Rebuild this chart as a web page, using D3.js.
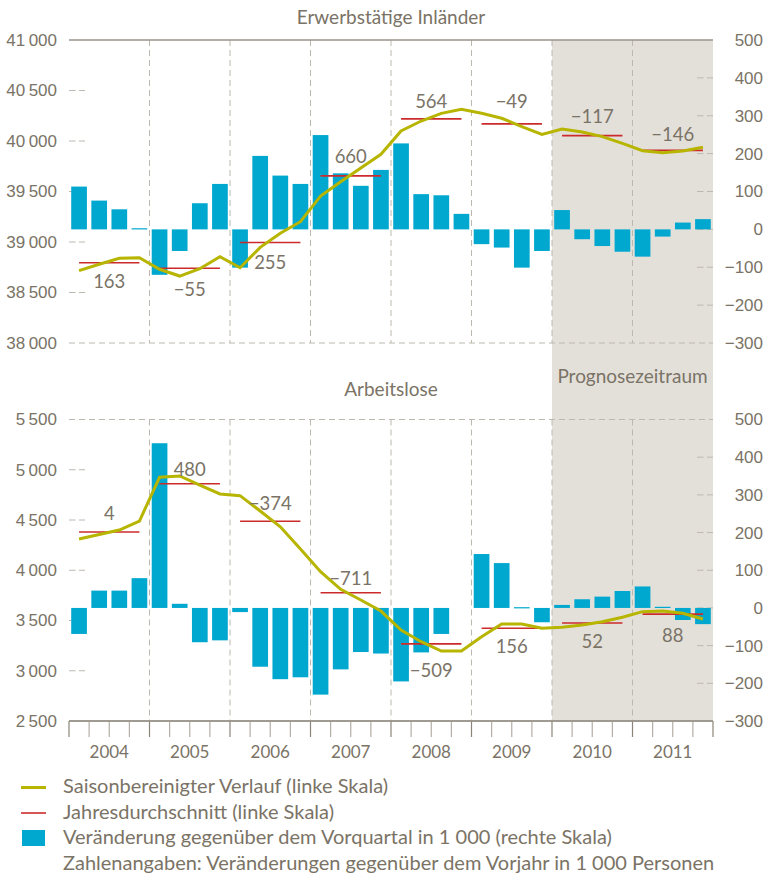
<!DOCTYPE html>
<html><head><meta charset="utf-8">
<script src="https://cdn.jsdelivr.net/npm/d3@7/dist/d3.min.js"></script>
<style>
html,body{margin:0;padding:0;background:#fff;}
svg{display:block;font-family:Lato,"Open Sans",sans-serif;}
</style></head>
<body>
<svg id="chart" width="768" height="876"></svg>
<script>
// ---------- DATA ----------
const years = ["2004","2005","2006","2007","2008","2009","2010","2011"];
const quarters = years.flatMap(y => ["Q1","Q2","Q3","Q4"].map(q => y + q));
const forecastYears = ["2010","2011"];

// Erwerbstätige Inländer (1000 Personen)
const empLine = [38716,38780,38839,38845, 38730,38663,38736,38855, 38745,38947,39086,39201,
                 39455,39597,39733,39868, 40099,40198,40274,40314, 40274,40225,40142,40066,
                 40119,40089,40043,39977, 39904,39884,39901,39938];
const empAvg = [38795,38740,38995,39655,40219,40170,40053,39907];
const empBars = [113,76,53,3, -120,-57,69,120, -101,194,142,120,
                 249,148,115,157, 227,93,90,41, -39,-48,-101,-57,
                 51,-26,-44,-59, -72,-19,18,27];
const empYoY = ["163","−55","255","660","564","−49","−117","−146"];
const empYoYAt = [38607,38525,38799,39845,40389,40389,40240,40066];

// Arbeitslose (1000 Personen)
const unLine = [4311,4356,4400,4490, 4925,4938,4848,4759, 4742,4590,4433,4211,
                3986,3810,3704,3594, 3405,3289,3196,3196, 3339,3465,3465,3422,
                3432,3455,3488,3532, 3588,3595,3572,3515];
const unAvg = [4381,4861,4487,3776,3267,3423,3475,3563];
const unBars = [-69,46,46,79, 437,11,-91,-86, -11,-156,-189,-184,
                -230,-163,-117,-121, -195,-118,-69,0, 143,119,2,-38,
                8,23,30,45, 57,3,-32,-43];
const unYoY = ["4","480","−374","−711","−509","156","52","88"];
const unYoYAt = [4567,5004,4659,3920,3007,3246,3289,3346];

const empTicks = [38000,38500,39000,39500,40000,40500,41000];
const unTicks = [2500,3000,3500,4000,4500,5000,5500];
const rightTicks = [-300,-200,-100,0,100,200,300,400,500];

const titles = ["Erwerbstätige Inländer","Arbeitslose"];
const forecastLabel = "Prognosezeitraum";
const legendItems = ["Saisonbereinigter Verlauf (linke Skala)",
                     "Jahresdurchschnitt (linke Skala)",
                     "Veränderung gegenüber dem Vorquartal in 1 000 (rechte Skala)",
                     "Zahlenangaben: Veränderungen gegenüber dem Vorjahr in 1 000 Personen"];

// ---------- STYLE ----------
const C = {
  text:"#7a7366", bar:"#00a7cf", line:"#b7b500", avg:"#cc2b2b",
  shade:"#e3e0da", grid:"#bdb8ae", axis:"#9a958b"
};
const L = 69, R = 713;
const svg = d3.select("#chart");

const loc = d3.formatLocale({decimal:",", thousands:"\u2009", grouping:[3], currency:["","€"], minus:"\u2212"});
const fmtL = loc.format(",d");
const fmtR = loc.format("d");

const x = d3.scaleBand().domain(quarters).range([L, R]).paddingInner(0.22).paddingOuter(0.11);
const xy = d3.scaleBand().domain(years).range([L, R]);
const cx = q => x(q) + x.bandwidth()/2;

const panels = [
  {title:titles[0], line:empLine, avg:empAvg, bars:empBars, yoy:empYoY, yoyAt:empYoYAt, ticks:empTicks,
   yL:d3.scaleLinear().domain([38000,41000]).range([343,40]),
   yR:d3.scaleLinear().domain([-300,500]).range([343,40]), titleY:24, top:"solid", bottom:"dashed"},
  {title:titles[1], line:unLine, avg:unAvg, bars:unBars, yoy:unYoY, yoyAt:unYoYAt, ticks:unTicks,
   yL:d3.scaleLinear().domain([2500,5500]).range([721,419.5]),
   yR:d3.scaleLinear().domain([-300,500]).range([721,419.5]), titleY:396, top:"dashed", bottom:"solid"}
];

// forecast shading spanning both panels
const fx0 = xy(forecastYears[0]), fx1 = xy(forecastYears[forecastYears.length-1]) + xy.bandwidth();
svg.append("rect").attr("x", fx0).attr("y", panels[0].yL.range()[1])
  .attr("width", fx1 - fx0).attr("height", panels[1].yL.range()[0] - panels[0].yL.range()[1])
  .attr("fill", C.shade);
svg.append("text").attr("x", (fx0+fx1)/2).attr("y", 383).attr("text-anchor","middle")
  .attr("font-size", 19).attr("fill", C.text).text(forecastLabel);

panels.forEach(p => {
  const g = svg.append("g");
  const [yb, yt] = p.yL.range();

  g.append("text").attr("x", (L+R)/2).attr("y", p.titleY).attr("text-anchor","middle")
    .attr("font-size", 19).attr("fill", C.text).text(p.title);

  // year separators
  g.selectAll(".sep").data(years.slice(1)).join("line")
    .attr("x1", d => xy(d)).attr("x2", d => xy(d)).attr("y1", yt).attr("y2", yb)
    .attr("stroke", C.grid).attr("stroke-width", 1).attr("stroke-dasharray", "6,4");

  // short tick dashes on both sides
  const inner = p.ticks.slice(1, -1);
  g.selectAll(".ldash").data(inner).join("line")
    .attr("x1", L).attr("x2", L+16).attr("y1", d => p.yL(d)).attr("y2", d => p.yL(d))
    .attr("stroke", C.grid).attr("stroke-dasharray", "6.5,3.5");
  g.selectAll(".rdash").data(rightTicks.slice(1,-1)).join("line")
    .attr("x1", R-16).attr("x2", R).attr("y1", d => p.yR(d)).attr("y2", d => p.yR(d))
    .attr("stroke", C.grid).attr("stroke-dasharray", "6.5,3.5");

  // top / bottom frame lines
  [[yt, p.top],[yb, p.bottom]].forEach(([yy, style]) => {
    g.append("line").attr("x1", L).attr("x2", R).attr("y1", yy).attr("y2", yy)
      .attr("stroke", style === "solid" ? C.axis : C.grid)
      .attr("stroke-width", style === "solid" ? 1.5 : 1)
      .attr("stroke-dasharray", style === "solid" ? null : "6,4");
  });

  // axes labels
  const axL = d3.axisLeft(p.yL).tickValues(p.ticks).tickFormat(fmtL).tickSize(0).tickPadding(12);
  const gl = g.append("g").attr("transform", `translate(${L},0)`).call(axL);
  gl.select(".domain").remove();
  gl.selectAll("text").attr("font-size", 17).attr("fill", C.text).attr("font-family", null);

  const axR = d3.axisRight(p.yR).tickValues(rightTicks).tickFormat(fmtR).tickSize(0).tickPadding(0);
  const gr = g.append("g").attr("transform", `translate(763,0)`).call(axR);
  gr.select(".domain").remove();
  gr.selectAll("text").attr("font-size", 17).attr("fill", C.text).attr("font-family", null)
    .attr("text-anchor", "end");

  // bars
  g.selectAll(".bar").data(p.bars).join("rect")
    .attr("x", (d,i) => x(quarters[i])).attr("width", x.bandwidth())
    .attr("y", d => p.yR(Math.max(0,d))).attr("height", d => Math.max(Math.abs(p.yR(d)-p.yR(0)), d===0?0:1.2))
    .attr("fill", C.bar);

  // annual averages
  g.selectAll(".avg").data(p.avg).join("line")
    .attr("x1", (d,i) => cx(years[i]+"Q1")).attr("x2", (d,i) => cx(years[i]+"Q4"))
    .attr("y1", d => p.yL(d)).attr("y2", d => p.yL(d))
    .attr("stroke", C.avg).attr("stroke-width", 1.6);

  // seasonally adjusted line
  g.append("path").datum(p.line)
    .attr("d", d3.line().x((d,i) => cx(quarters[i])).y(d => p.yL(d)))
    .attr("fill","none").attr("stroke", C.line).attr("stroke-width", 3).attr("stroke-linejoin","miter");

  // yoy labels
  g.selectAll(".yoy").data(p.yoy).join("text")
    .attr("x", (d,i) => xy(years[i]) + xy.bandwidth()/2).attr("y", (d,i) => p.yL(p.yoyAt[i]))
    .attr("dy", "0.35em").attr("text-anchor","middle").attr("font-size", 18.5).attr("fill", C.text)
    .text(d => d);
});

// bottom time axis
const yb = panels[1].yL.range()[0];
const ax = svg.append("g");
const bounds = d3.range(quarters.length + 1).map(i => i === quarters.length ? R : x(quarters[i]) - x.step()*x.paddingInner()/2);
ax.selectAll("line.t").data(bounds).join("line")
  .attr("x1", d => d).attr("x2", d => d).attr("y1", yb).attr("y2", yb + 16)
  .attr("stroke", (d,i) => i % 4 === 0 ? "#8a8479" : "#b3aea5").attr("stroke-width", 1.2);
ax.append("line").attr("x1", L).attr("x2", R).attr("y1", yb).attr("y2", yb)
  .attr("stroke", C.axis).attr("stroke-width", 1.5);
ax.selectAll("text").data(years).join("text")
  .attr("x", d => xy(d) + xy.bandwidth()/2).attr("y", 758).attr("text-anchor","middle")
  .attr("font-size", 17).attr("fill", C.text).text(d => d);

// legend
const lg = svg.append("g");
const rowY = [793, 818.5, 844, 869.5];
lg.append("line").attr("x1", 21).attr("x2", 46).attr("y1", 787.5).attr("y2", 787.5).attr("stroke", C.line).attr("stroke-width", 3);
lg.append("line").attr("x1", 21).attr("x2", 46).attr("y1", 813).attr("y2", 813).attr("stroke", C.avg).attr("stroke-width", 1.6);
lg.append("rect").attr("x", 22).attr("y", 830).attr("width", 23).attr("height", 16).attr("fill", C.bar);
lg.selectAll("text").data(legendItems).join("text")
  .attr("x", 63).attr("y", (d,i) => rowY[i]).attr("font-size", 20).attr("fill", C.text).text(d => d);
</script>
</body></html>
